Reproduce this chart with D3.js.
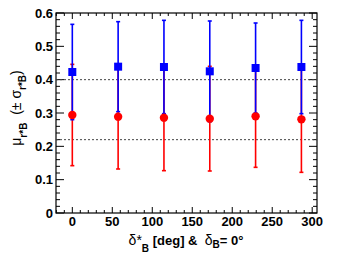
<!DOCTYPE html>
<html><head><meta charset="utf-8">
<script src="https://cdn.jsdelivr.net/npm/d3@7"></script>
<style>body{margin:0;background:#fff}svg{display:block}text{white-space:pre}</style>
</head><body>
<svg id="c" width="353" height="254"></svg>
<script>
const deltaStar = [0, 57.3, 114.6, 171.9, 229.2, 286.5];
const blueMean  = [0.423, 0.439, 0.438, 0.425, 0.435, 0.438];
const blueSigma = [0.143, 0.135, 0.140, 0.151, 0.135, 0.140];
const redMean   = [0.294, 0.289, 0.286, 0.283, 0.290, 0.281];
const redSigma  = [0.152, 0.157, 0.159, 0.157, 0.153, 0.159];
const refLines  = [0.4, 0.22];
const xTicks = [0, 50, 100, 150, 200, 250, 300];
const yTicks = [0, 0.1, 0.2, 0.3, 0.4, 0.5, 0.6];

const svg = d3.select('#c');
const L = 56, R = 317, T = 13, B = 213;
const x = d3.scaleLinear().domain([-20.4, 306]).range([L, R]);
const y = d3.scaleLinear().domain([0, 0.6]).range([B, T]);

// frame
svg.append('rect').attr('x', L).attr('y', T).attr('width', R - L).attr('height', B - T)
  .attr('fill', '#fff').attr('stroke', '#000').attr('stroke-width', 1.2);

// ticks
const tk = svg.append('g').attr('stroke', '#000').attr('stroke-width', 1);
const xMinor = d3.range(-20, 306, 10);
xMinor.forEach(v => {
  const major = v % 50 === 0;
  const len = major ? 6 : 3;
  tk.append('line').attr('x1', x(v)).attr('x2', x(v)).attr('y1', B).attr('y2', B - len);
  tk.append('line').attr('x1', x(v)).attr('x2', x(v)).attr('y1', T).attr('y2', T + len);
});
d3.range(0, 0.601, 0.02).forEach(v => {
  const major = Math.abs(v * 10 - Math.round(v * 10)) < 1e-6;
  const len = major ? 8 : 4;
  tk.append('line').attr('y1', y(v)).attr('y2', y(v)).attr('x1', L).attr('x2', L + len);
  tk.append('line').attr('y1', y(v)).attr('y2', y(v)).attr('x1', R).attr('x2', R - len);
});

// tick labels
const font = 'Liberation Sans, Arial, sans-serif';
svg.append('g').selectAll('text').data(yTicks).join('text')
  .attr('x', 53).attr('y', d => y(d) + 4.5).attr('text-anchor', 'end')
  .attr('font-family', font).attr('font-weight', 'bold').attr('font-size', 13)
  .text(d => d === 0 ? '0' : d3.format('.1f')(d));
svg.append('g').selectAll('text').data(xTicks).join('text')
  .attr('x', d => x(d)).attr('y', 226).attr('text-anchor', 'middle')
  .attr('font-family', font).attr('font-weight', 'bold').attr('font-size', 13)
  .text(d => d);

// reference dashed lines
svg.append('g').selectAll('line').data(refLines).join('line')
  .attr('x1', L).attr('x2', R).attr('y1', d => y(d)).attr('y2', d => y(d))
  .attr('stroke', '#444').attr('stroke-width', 1).attr('stroke-dasharray', '2,2');

// error bars
function bars(mean, sig, color) {
  const g = svg.append('g').attr('stroke', color).attr('stroke-width', 1.6);
  mean.forEach((m, i) => {
    const cx = x(deltaStar[i]);
    g.append('line').attr('x1', cx).attr('x2', cx).attr('y1', y(m - sig[i])).attr('y2', y(m + sig[i]));
    [m - sig[i], m + sig[i]].forEach(e =>
      g.append('line').attr('x1', cx - 2).attr('x2', cx + 2).attr('y1', y(e)).attr('y2', y(e)));
  });
}
bars(redMean, redSigma, '#ff0000');
bars(blueMean, blueSigma, '#0000ff');

svg.append('g').selectAll('circle').data(redMean).join('circle')
  .attr('cx', (d, i) => x(deltaStar[i])).attr('cy', d => y(d)).attr('r', 4.2)
  .attr('fill', '#ff0000');
svg.append('g').selectAll('rect').data(blueMean).join('rect')
  .attr('x', (d, i) => x(deltaStar[i]) - 4).attr('y', d => y(d) - 4)
  .attr('width', 8).attr('height', 8).attr('fill', '#0000ff');

// axis titles
const xt = svg.append('text').attr('x', 186).attr('y', 245).attr('text-anchor', 'middle')
  .attr('font-family', font).attr('font-weight', 'bold').attr('font-size', 13);
xt.append('tspan').attr('font-weight', 'normal').attr('font-size', 14).text('δ*');
xt.append('tspan').attr('dy', 7).attr('font-size', 10).text('B');
xt.append('tspan').attr('dy', -7).text(' [deg] &  ');
xt.append('tspan').attr('font-weight', 'normal').attr('font-size', 14).text('δ');
xt.append('tspan').attr('dy', 3).attr('font-size', 10).text('B');
xt.append('tspan').attr('dy', -3).text('= 0°');

const yt = svg.append('text').attr('transform', 'translate(21,108) rotate(-90)')
  .attr('text-anchor', 'middle').attr('font-family', font).attr('font-size', 14);
yt.append('tspan').text('μ');
yt.append('tspan').attr('dy', 6).attr('font-size', 10).attr('font-weight', 'bold').text('r*B');
yt.append('tspan').attr('dy', -6).text('  (± σ');
yt.append('tspan').attr('dy', 5).attr('font-size', 10).attr('font-weight', 'bold').text('r*B');
yt.append('tspan').attr('dy', -5).text(')');
</script>
</body></html>
